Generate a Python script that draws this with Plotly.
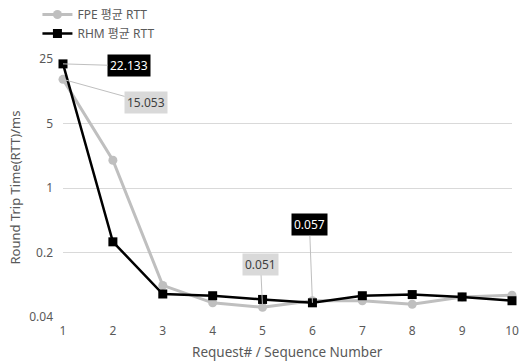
import math
import plotly.graph_objects as go

# Request sequence numbers
requests = [1, 2, 3, 4, 5, 6, 7, 8, 9, 10]

# Average RTT per request (ms)
fpe_rtt = [15.053, 2.0, 0.088, 0.057, 0.051, 0.060, 0.060, 0.055, 0.066, 0.069]
rhm_rtt = [22.133, 0.261, 0.071, 0.068, 0.062, 0.057, 0.068, 0.070, 0.066, 0.060]

fpe_name = "FPE 평균 RTT"
rhm_name = "RHM 평균 RTT"

y_ticks = [0.04, 0.2, 1, 5, 25]
y_tick_text = ["0.04", "0.2", "1", "5", "25"]

x_title = "Request# / Sequence Number"
y_title = "Round Trip Time(RTT)/ms"

FONT = "Noto Sans, Noto Sans CJK KR, sans-serif"
GREY_TEXT = "#595959"
FPE_COLOR = "#bfbfbf"
RHM_COLOR = "#000000"

fig = go.Figure()

fig.add_trace(go.Scatter(
    x=requests, y=fpe_rtt, name=fpe_name, mode="lines+markers",
    line=dict(color=FPE_COLOR, width=3),
    marker=dict(symbol="circle", size=9, color=FPE_COLOR),
    cliponaxis=False,
))
fig.add_trace(go.Scatter(
    x=requests, y=rhm_rtt, name=rhm_name, mode="lines+markers",
    line=dict(color=RHM_COLOR, width=2.5),
    marker=dict(symbol="square", size=9, color=RHM_COLOR),
    cliponaxis=False,
))

# Value callouts: (series values, index, box colour, text colour, offset x, offset y)
callouts = [
    (rhm_rtt, 0, "#000000", "#ffffff", 66, 2),
    (fpe_rtt, 0, "#d9d9d9", "#404040", 83, 23),
    (fpe_rtt, 4, "#d9d9d9", "#404040", -2, -43),
    (rhm_rtt, 5, "#000000", "#ffffff", -3, -78),
]
for series, i, bg, fg, ax, ay in callouts:
    fig.add_annotation(
        x=requests[i], y=math.log10(series[i]),
        text=f"{series[i]:.3f}",
        showarrow=True, arrowhead=0, arrowwidth=1, arrowcolor="#bfbfbf",
        ax=ax, ay=ay, bgcolor=bg, borderpad=2,
        font=dict(family=FONT, size=12, color=fg),
    )

# Axis titles placed in the page margins
fig.add_annotation(
    text=y_title, xref="paper", yref="paper", x=-0.108, y=0.5,
    xanchor="center", yanchor="middle", textangle=-90, showarrow=False,
    font=dict(family=FONT, size=13, color=GREY_TEXT),
)
fig.add_annotation(
    text=x_title, xref="paper", yref="paper", x=0.5, y=-0.135,
    xanchor="center", yanchor="middle", showarrow=False,
    font=dict(family=FONT, size=13.5, color=GREY_TEXT),
)

fig.update_layout(
    width=520, height=361,
    margin=dict(l=63, r=8, t=59, b=44, autoexpand=False),
    paper_bgcolor="white", plot_bgcolor="white",
    font=dict(family=FONT, size=12, color=GREY_TEXT),
    showlegend=True,
    legend=dict(
        xref="container", yref="container",
        x=0.072, y=1.0, xanchor="left", yanchor="top",
        orientation="v", bgcolor="rgba(0,0,0,0)",
        font=dict(family=FONT, size=12, color=GREY_TEXT),
        itemwidth=30, tracegroupgap=0,
    ),
)

fig.update_xaxes(
    range=[1, 10], tickmode="array", tickvals=requests, automargin=False,
    showgrid=False, zeroline=False, showline=False, ticks="",
    ticklabelstandoff=5,
    tickfont=dict(size=12, color=GREY_TEXT),
)
fig.update_yaxes(
    type="log", range=[math.log10(0.04), math.log10(25)], automargin=False,
    tickmode="array", tickvals=y_ticks, ticktext=y_tick_text,
    showgrid=True, gridcolor="#d9d9d9", gridwidth=1,
    zeroline=False, showline=False, ticks="", ticklabelstandoff=9,
    tickfont=dict(size=12, color=GREY_TEXT),
)

fig.write_html("out.html")
